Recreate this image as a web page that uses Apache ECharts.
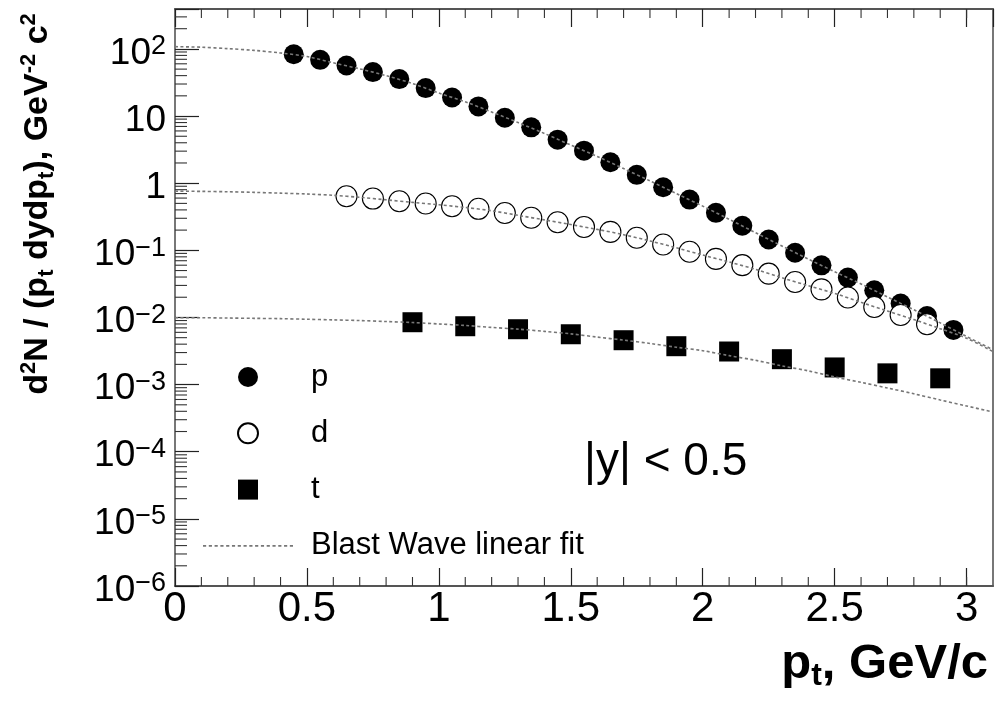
<!DOCTYPE html>
<html><head><meta charset="utf-8">
<script src="https://cdn.jsdelivr.net/npm/echarts@6/dist/echarts.min.js"></script>
<style>html,body{margin:0;padding:0;background:#fff}#c{width:998px;height:702px}</style>
</head><body><div id="c"></div>
<script>
// ---- data ----
const ptP = [0.45,0.55,0.65,0.75,0.85,0.95,1.05,1.15,1.25,1.35,1.45,1.55,1.65,1.75,1.85,1.95,2.05,2.15,2.25,2.35,2.45,2.55,2.65,2.75,2.85,2.95];
const valP = [83.4,68.7,56.5,45.1,35.5,26.1,18.9,13.9,9.44,6.78,4.45,3.05,2.05,1.33,0.869,0.57,0.362,0.232,0.145,0.0921,0.0597,0.0392,0.0254,0.0161,0.0105,0.00652];
const ptD = [0.65,0.75,0.85,0.95,1.05,1.15,1.25,1.35,1.45,1.55,1.65,1.75,1.85,1.95,2.05,2.15,2.25,2.35,2.45,2.55,2.65,2.75,2.85];
const valD = [0.638,0.59,0.538,0.498,0.454,0.415,0.36,0.305,0.262,0.223,0.188,0.154,0.122,0.0953,0.0745,0.0601,0.0449,0.0337,0.0262,0.0198,0.0143,0.0109,0.00793];
const ptT = [0.9,1.1,1.3,1.5,1.7,1.9,2.1,2.3,2.5,2.7,2.9];
const valT = [0.00849,0.0074,0.00668,0.00562,0.00458,0.00373,0.00311,0.00239,0.0018,0.00147,0.00124];
const fitPt = [0,0.1,0.2,0.3,0.4,0.5,0.6,0.7,0.8,0.9,1.0,1.1,1.2,1.3,1.4,1.5,1.6,1.7,1.8,1.9,2.0,2.1,2.2,2.3,2.4,2.5,2.6,2.7,2.8,2.9,3.0,3.1];
const fitP = [108,106,101,95,87,77,62,50.5,40,30.5,22,16.3,11.5,8.0,5.5,3.7,2.5,1.65,1.08,0.70,0.455,0.29,0.183,0.116,0.074,0.048,0.0315,0.0202,0.013,0.0083,0.0052,0.0033];
const fitD = [0.76,0.755,0.745,0.73,0.71,0.69,0.66,0.615,0.565,0.518,0.476,0.435,0.388,0.332,0.284,0.242,0.205,0.171,0.138,0.109,0.085,0.067,0.052,0.039,0.0297,0.0228,0.0168,0.0125,0.0093,0.0068,0.0049,0.0031];
const fitT = [0.0099,0.0099,0.0098,0.0097,0.0096,0.0094,0.0092,0.009,0.0087,0.0084,0.008,0.0076,0.0071,0.0067,0.0062,0.0057,0.0051,0.0046,0.0041,0.0036,0.0032,0.0027,0.0023,0.0019,0.0016,0.0013,0.00108,0.00089,0.00073,0.00059,0.00048,0.00039];
const xTickLabels = ['0','0.5','1','1.5','2','2.5','3'];
const xMinorTicks = [0.1,0.2,0.3,0.4,0.6,0.7,0.8,0.9,1.1,1.2,1.3,1.4,1.6,1.7,1.8,1.9,2.1,2.2,2.3,2.4,2.6,2.7,2.8,2.9,3.0];
const yMinorMult = [2,3,4,5,6,7,8,9];
const yDecades = [-6,-5,-4,-3,-2,-1,0,1,2];
const seriesNames = ['p','d','t','Blast Wave linear fit'];
const yRangeLabel = '|y| < 0.5';

const X_MIN = 0, X_MAX = 3.1, Y_MIN = 1e-6, Y_MAX = 393;
const FONT = "'Liberation Sans', Arial, Helvetica, sans-serif";
const yMinor = [];
yDecades.forEach(d => yMinorMult.forEach(m => { const v = m * Math.pow(10, d); if (v < Y_MAX) yMinor.push([0, v]); }));

// dotted-line legend icon (a row of short dashes)
let dashPath = 'path://';
for (let x = 0; x < 88; x += 5.5) dashPath += 'M' + x + ',0L' + (x + 3) + ',0L' + (x + 3) + ',1.6L' + x + ',1.6Z';

const zip = (a, b) => a.map((x, i) => [x, b[i]]);
const chart = echarts.init(document.getElementById('c'), null, {renderer: 'canvas'});
const fitStyle = {color: '#777', width: 1.6, type: [3, 2.5]};

const option = {
  animation: false,
  backgroundColor: '#fff',
  grid: {left: 175, top: 9, right: 5, bottom: 116, containLabel: false, outerBoundsMode: 'none'},
  xAxis: [{
    type: 'value', min: X_MIN, max: X_MAX, interval: 0.5, position: 'bottom',
    axisLine: {show: true, onZero: false, lineStyle: {color: '#555', width: 2}},
    axisTick: {show: true, inside: true, length: 18, lineStyle: {color: '#222', width: 1.2}},
    splitLine: {show: false},
    axisLabel: {show: true, showMaxLabel: false, margin: 2, fontSize: 42, lineHeight: 42, fontFamily: FONT, color: '#000',
      formatter: v => { const i = Math.round(v / 0.5); return Math.abs(v - i * 0.5) < 1e-6 ? (xTickLabels[i] || '') : ''; }}
  }, {
    type: 'value', min: X_MIN, max: X_MAX, interval: 0.5, position: 'top',
    axisLine: {show: true, onZero: false, lineStyle: {color: '#555', width: 2}},
    axisTick: {show: true, inside: true, length: 18, lineStyle: {color: '#222', width: 1.2}},
    splitLine: {show: false}, axisLabel: {show: false}
  }],
  yAxis: [{
    type: 'log', logBase: 10, min: Y_MIN, max: Y_MAX, position: 'left',
    axisLine: {show: true, onZero: false, lineStyle: {color: '#777', width: 2}},
    axisTick: {show: true, inside: true, length: 24, lineStyle: {color: '#222', width: 1.2}},
    splitLine: {show: false},
    axisLabel: {show: true, margin: 9, padding: [9, 0, 0, 0], fontFamily: FONT, color: '#000',
      formatter: v => {
        const l = Math.log10(v); const n = Math.round(l);
        if (Math.abs(l - n) > 1e-6) return '';
        if (n === 0) return '{b|1}';
        if (n === 1) return '{b|10}';
        return '{b|10}{s|' + (n < 0 ? '\u2212' + (-n) : String(n)) + '}';
      },
      rich: {
        b: {fontSize: 37, fontFamily: FONT, color: '#000', lineHeight: 40},
        s: {fontSize: 27, fontFamily: FONT, color: '#000', lineHeight: 24, verticalAlign: 'top'}
      }}
  }, {
    type: 'log', logBase: 10, min: Y_MIN, max: Y_MAX, position: 'right',
    axisLine: {show: true, onZero: false, lineStyle: {color: '#777', width: 2}},
    axisTick: {show: false}, axisLabel: {show: false}, splitLine: {show: false}
  }],
  legend: {
    orient: 'vertical', left: 203, top: 361.5, padding: 0, itemWidth: 90, itemHeight: 20, itemGap: 25.3,
    selectedMode: false, symbolKeepAspect: true,
    textStyle: {fontSize: 31, fontFamily: FONT, color: '#000', padding: [0, 0, 0, 13]},
    data: [
      {name: seriesNames[0], icon: 'circle'},
      {name: seriesNames[1], icon: 'circle'},
      {name: seriesNames[2], icon: 'path://M0,0L10,0L10,10L0,10Z'},
      {name: seriesNames[3], icon: dashPath, itemStyle: {color: '#777', opacity: 1}}
    ]
  },
  series: [
    {name: seriesNames[0], type: 'scatter', data: zip(ptP, valP), symbol: 'circle', symbolSize: 20, itemStyle: {color: '#000', opacity: 1}, z: 3},
    {name: seriesNames[1], type: 'scatter', data: zip(ptD, valD), symbol: 'circle', symbolSize: 21, itemStyle: {color: '#fff', borderColor: '#000', borderWidth: 1.1, opacity: 1}, z: 3},
    {name: seriesNames[2], type: 'scatter', data: zip(ptT, valT), symbol: 'rect', symbolSize: 20, itemStyle: {color: '#000', opacity: 1}, z: 3},
    {name: seriesNames[3], type: 'line', data: zip(fitPt, fitP), symbol: 'none', smooth: 0.3, lineStyle: fitStyle, itemStyle: {color: '#777'}, z: 5},
    {name: seriesNames[3], type: 'line', data: zip(fitPt, fitD), symbol: 'none', smooth: 0.3, lineStyle: fitStyle, itemStyle: {color: '#777'}, z: 5},
    {name: seriesNames[3], type: 'line', data: zip(fitPt, fitT), symbol: 'none', smooth: 0.3, lineStyle: fitStyle, itemStyle: {color: '#777'}, z: 5},
    {type: 'custom', silent: true, z: 6, data: yMinor,
      renderItem: (params, api) => {
        const p = api.coord([0, api.value(1)]);
        return {type: 'line', shape: {x1: p[0], y1: p[1], x2: p[0] + 12, y2: p[1]}, style: {stroke: '#333', lineWidth: 1.1}};
      }},
    {type: 'custom', silent: true, z: 6, data: xMinorTicks.map(x => [x, Y_MIN]),
      renderItem: (params, api) => {
        const p = api.coord([api.value(0), Y_MIN]);
        const top = params.coordSys.y;
        return {type: 'group', children: [
          {type: 'line', shape: {x1: p[0], y1: p[1], x2: p[0], y2: p[1] - 9}, style: {stroke: '#333', lineWidth: 1.1}},
          {type: 'line', shape: {x1: p[0], y1: top, x2: p[0], y2: top + 9}, style: {stroke: '#333', lineWidth: 1.1}}
        ]};
      }}
  ],
  graphic: [
    {type: 'text', x: 38, y: 204, rotation: Math.PI / 2, style: {
      text: '{b|d}{sup|2}{b|N / (p}{sub|t}{b| dydp}{sub|t}{b|), GeV}{sup|-2}{b| c}{sup|2}',
      align: 'center', verticalAlign: 'middle',
      rich: {
        b: {fontSize: 34, fontWeight: 'bold', fontFamily: FONT, fill: '#000', lineHeight: 40},
        sup: {fontSize: 22, fontWeight: 'bold', fontFamily: FONT, fill: '#000', lineHeight: 22, verticalAlign: 'top'},
        sub: {fontSize: 22, fontWeight: 'bold', fontFamily: FONT, fill: '#000', lineHeight: 14, verticalAlign: 'bottom'}
      }}},
    {type: 'text', x: 988, y: 664, style: {
      text: '{b|p}{sub|t}{b|, GeV/c}', align: 'right', verticalAlign: 'middle',
      rich: {
        b: {fontSize: 49, fontWeight: 'bold', fontFamily: FONT, fill: '#000', lineHeight: 56},
        sub: {fontSize: 32, fontWeight: 'bold', fontFamily: FONT, fill: '#000', lineHeight: 8, verticalAlign: 'bottom'}
      }}},
    {type: 'text', x: 584, y: 462, style: {text: yRangeLabel, fontSize: 46, fontFamily: FONT, fill: '#000', align: 'left', verticalAlign: 'middle'}}
  ]
};
chart.setOption(option);
</script></body></html>
